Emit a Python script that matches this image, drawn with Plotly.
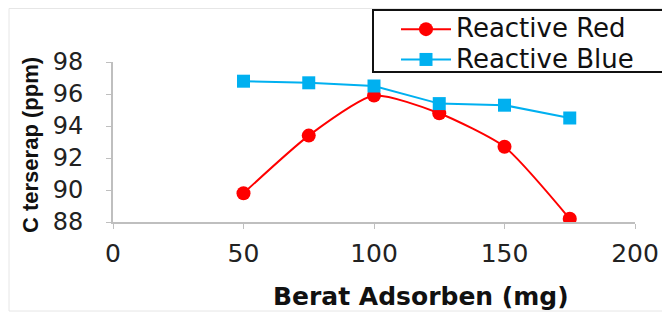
import plotly.graph_objects as go

berat = [50, 75, 100, 125, 150, 175]
red_vals = [89.8, 93.4, 95.9, 94.8, 92.7, 88.2]
blue_vals = [96.8, 96.7, 96.5, 95.4, 95.3, 94.5]
series_names = ["Reactive Red", "Reactive Blue"]
x_ticks = [0, 50, 100, 150, 200]
y_ticks = [88, 90, 92, 94, 96, 98]

WIDE = "DejaVu Sans, Verdana, sans-serif"
ARIAL = "Liberation Sans, Arial, sans-serif"

W, H = 662, 306
L, R, T, B = 105, 35, 54, 92
PW, PH = W - L - R, H - T - B

def px(xf):
    return (xf - L) / PW

def py(yf):
    return (T + PH - yf) / PH

def legend_name(s):
    return "<span style='font-size:26px'>" + s + "</span>"

fig = go.Figure()
fig.add_trace(go.Scatter(
    x=berat, y=red_vals, name=legend_name(series_names[0]), mode="lines+markers",
    line=dict(color="#FF0000", width=2, shape="spline", smoothing=0.6),
    marker=dict(symbol="circle", size=14, color="#FF0000"),
))
fig.add_trace(go.Scatter(
    x=berat, y=blue_vals, name=legend_name(series_names[1]), mode="lines+markers",
    line=dict(color="#00B0F0", width=2),
    marker=dict(symbol="square", size=13, color="#00B0F0"),
))

fig.update_layout(
    width=W, height=H,
    margin=dict(l=L, r=R, t=T, b=B, autoexpand=False),
    paper_bgcolor="white", plot_bgcolor="white",
    font=dict(family=WIDE, color="#222222"),
    showlegend=True,
    legend=dict(
        xref="container", yref="container",
        x=388 / W, y=1 - 1 / H, xanchor="left", yanchor="top",
        borderwidth=0, bgcolor="rgba(0,0,0,0)",
        font=dict(size=21, color="#111111", family=WIDE),
        tracegroupgap=0, itemwidth=50,
    ),
    xaxis=dict(
        range=[0, 200], tickvals=x_ticks, showgrid=False, zeroline=False,
        showline=True, linecolor="#BFBFBF", linewidth=2,
        ticks="outside", ticklen=5, tickcolor="#BFBFBF",
        tickfont=dict(size=25, family=WIDE), ticklabelstandoff=3,
    ),
    yaxis=dict(
        range=[88, 98], tickvals=y_ticks, showgrid=False, zeroline=False,
        showline=True, linecolor="#BFBFBF", linewidth=2,
        ticks="outside", ticklen=5, tickcolor="#BFBFBF",
        tickfont=dict(size=24, family=WIDE), ticklabelstandoff=18,
    ),
)

# axis titles
fig.add_annotation(text="<b>Berat Adsorben (mg)</b>", xref="paper", yref="paper",
                   x=px(413), y=py(288), xanchor="center", yanchor="middle",
                   showarrow=False, font=dict(size=25, color="#111111", family=WIDE))
fig.add_annotation(text="<b>C terserap (ppm)</b>", xref="paper", yref="paper",
                   x=px(22), y=py(137), xanchor="center", yanchor="middle",
                   textangle=-90, showarrow=False,
                   font=dict(size=22, color="#111111", family=ARIAL))

# legend frame
fig.add_shape(type="rect", xref="paper", yref="paper",
              x0=px(365), x1=px(655), y0=py(64), y1=py(2),
              line=dict(color="#111111", width=2), fillcolor="white", layer="above")

# faint outer frame
fig.add_shape(type="rect", xref="paper", yref="paper",
              x0=px(1), x1=px(700), y0=py(303), y1=py(0.5),
              line=dict(color="#E6E6E6", width=1), layer="below")

fig.write_html("out.html")
